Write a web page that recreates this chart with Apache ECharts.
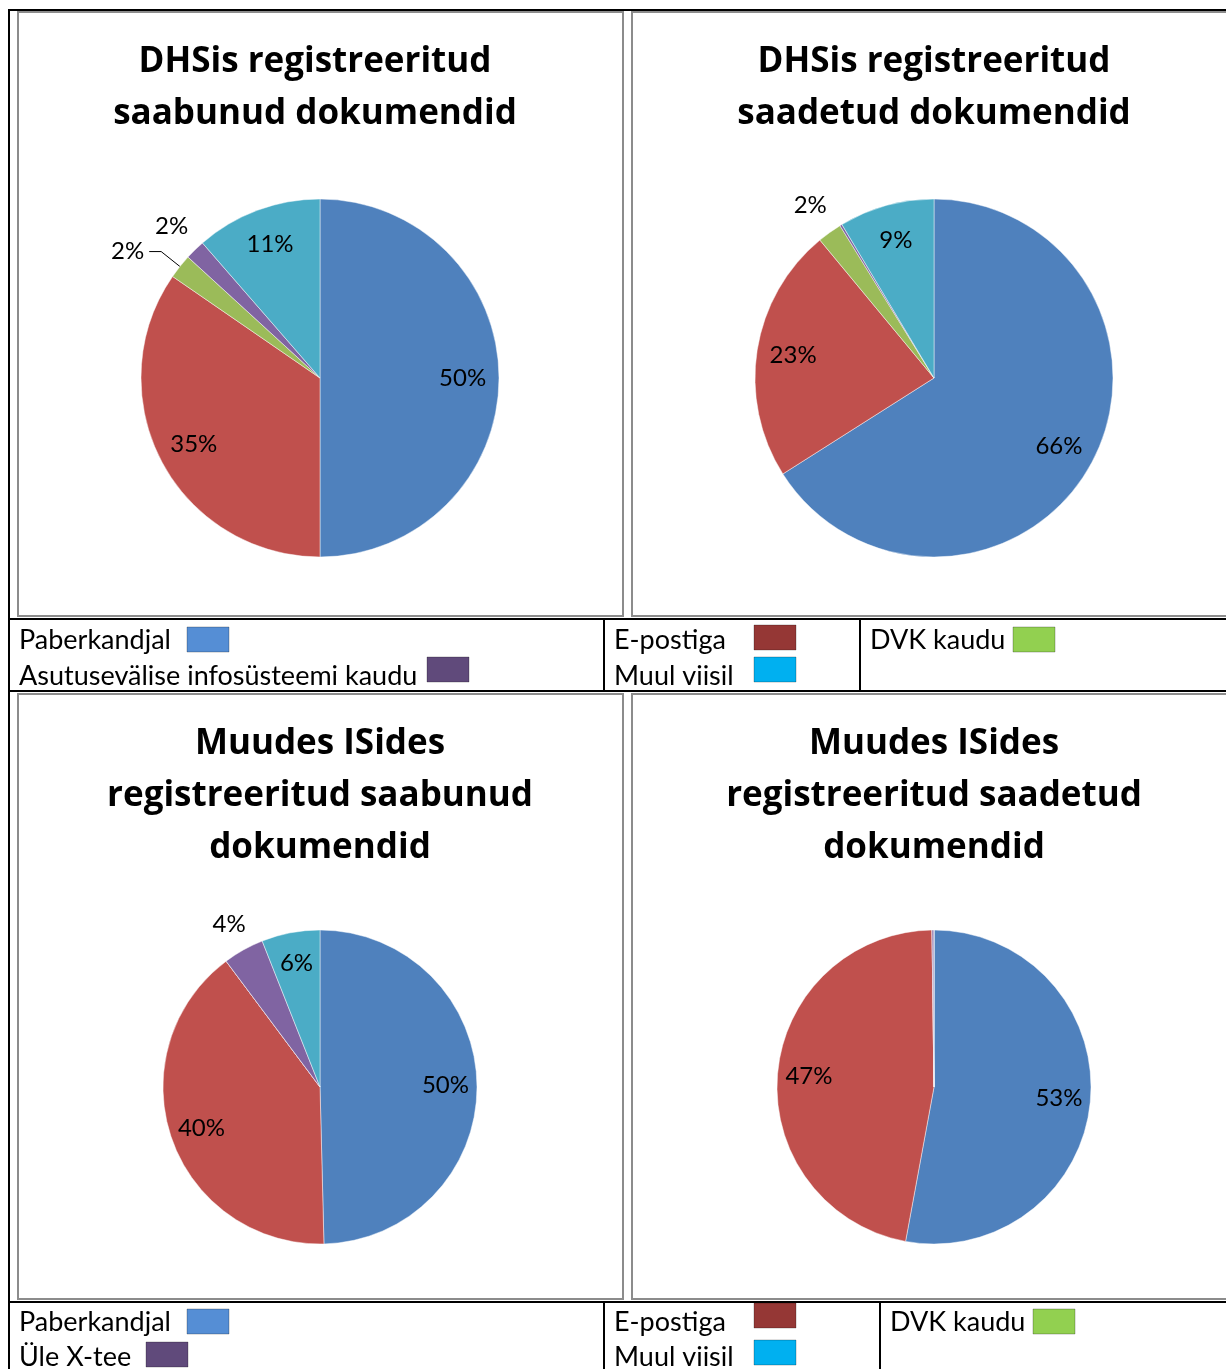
<!DOCTYPE html>
<html>
<head>
<meta charset="utf-8">
<script src="https://cdn.jsdelivr.net/npm/echarts@6/dist/echarts.min.js"></script>
<style>
html, body { margin: 0; padding: 0; background: #fff; }
#chart { width: 1226px; height: 1369px; }
</style>
</head>
<body>
<div id="chart"></div>
<script>
// slice order = clockwise from 12 o'clock
var namesTop = ['Paberkandjal', 'E-postiga', 'DVK kaudu', 'Asutusevälise infosüsteemi kaudu', 'Muul viisil']
var namesBottom = ['Paberkandjal', 'E-postiga', 'DVK kaudu', 'Üle X-tee', 'Muul viisil']

// shares in percent
var dhsSaabunud = [50.0, 34.6, 2.2, 1.8, 11.4]
var dhsSaadetud = [66.0, 23.0, 2.2, 0.2, 8.6]
var isSaabunud = [49.6, 40.2, 0, 4.2, 6.0]
var isSaadetud = [52.9, 46.9, 0, 0.2, 0]

var titles = [
    'DHSis registreeritud\nsaabunud dokumendid',
    'DHSis registreeritud\nsaadetud dokumendid',
    'Muudes ISides\nregistreeritud saabunud\ndokumendid',
    'Muudes ISides\nregistreeritud saadetud\ndokumendid'
]

var sliceColors = ['#4F81BD', '#C0504D', '#9BBB59', '#8064A2', '#4BACC6']
var legendColors = ['#558ED5', '#953735', '#92D050', '#604A7B', '#00B0F0']

var FONT = 'Lato'
var TITLE_FONT = '"Open Sans"'

var charts = [
    { data: dhsSaabunud, names: namesTop, title: titles[0], cx: 320, cy: 378, r: 179, tx: 315, ty: 36, leader: 2 },
    { data: dhsSaadetud, names: namesTop, title: titles[1], cx: 934, cy: 378, r: 179, tx: 934, ty: 36, leader: -1 },
    { data: isSaabunud, names: namesBottom, title: titles[2], cx: 320, cy: 1087, r: 157, tx: 320, ty: 718, leader: -1 },
    { data: isSaadetud, names: namesBottom, title: titles[3], cx: 934, cy: 1087, r: 157, tx: 934, ty: 718, leader: -1 }
]

// main pie + two transparent copies that only carry the labels
// (inner copy puts labels at ~0.78r, outer copy at ~1.17r)
function pieSeries(c, kind) {
    var radius = kind == 'main' ? c.r : (kind == 'inner' ? c.r * 1.56 : c.r * 2.34)
    return {
        type: 'pie',
        center: [c.cx, c.cy],
        radius: [0, radius],
        startAngle: 90,
        clockwise: true,
        percentPrecision: 0,
        avoidLabelOverlap: false,
        silent: kind != 'main',
        animation: false,
        z: kind == 'main' ? 2 : 3,
        emphasis: { disabled: true },
        itemStyle: {
            borderColor: kind == 'main' ? 'rgba(255,255,255,0.45)' : 'rgba(0,0,0,0)',
            borderWidth: kind == 'main' ? 1 : 0
        },
        label: {
            position: kind == 'main' ? 'outside' : 'inside',
            formatter: '{d}%',
            fontFamily: FONT,
            fontSize: 24,
            color: '#000'
        },
        labelLine: {
            show: kind == 'main',
            length: 24,
            length2: 12,
            lineStyle: { color: '#000', width: 1 }
        },
        data: c.data.map(function(v, i) {
            var item = { name: c.names[i], value: v }
            var small = v < 5
            var hidden = v < 1
            if (kind == 'main') {
                item.itemStyle = { color: sliceColors[i] }
                item.label = { show: i == c.leader }
                item.labelLine = { show: i == c.leader }
            } else {
                item.itemStyle = { color: 'rgba(0,0,0,0)' }
                var show = kind == 'inner' ? !small : (small && i != c.leader)
                item.label = { show: show && !hidden }
            }
            return item
        })
    }
}

var series = []
charts.forEach(function(c) {
    series.push(pieSeries(c, 'main'))
    series.push(pieSeries(c, 'inner'))
    series.push(pieSeries(c, 'outer'))
})

var graphic = []

function hline(x1, x2, y, color, w) {
    graphic.push({ type: 'line', shape: { x1: x1, y1: y, x2: x2, y2: y }, style: { stroke: color, lineWidth: w }, z: 10 })
}
function vline(x, y1, y2, color, w) {
    graphic.push({ type: 'line', shape: { x1: x, y1: y1, x2: x, y2: y2 }, style: { stroke: color, lineWidth: w }, z: 10 })
}
function box(x, y, w, h) {
    graphic.push({ type: 'rect', shape: { x: x, y: y, width: w, height: h }, style: { fill: null, stroke: '#8c8c8c', lineWidth: 2 }, z: 9 })
}

// chart frames
box(18, 12, 605, 604)
box(632, 12, 600, 604)
box(18, 694, 605, 605)
box(632, 694, 600, 605)

// table lines
hline(8, 1226, 10, '#000', 2)
vline(9, 10, 1369, '#000', 2)
hline(8, 1226, 619, '#000', 2)
hline(8, 1226, 691, '#000', 2)
vline(604, 619, 691, '#000', 2)
vline(860, 619, 691, '#000', 2)
hline(8, 1226, 1302, '#000', 2)
vline(604, 1302, 1369, '#000', 2)
vline(880, 1302, 1369, '#000', 2)

// titles
charts.forEach(function(c) {
    graphic.push({
        type: 'text', x: c.tx, y: c.ty, z: 10,
        style: {
            text: c.title, align: 'center', verticalAlign: 'top',
            font: 'bold 35px ' + TITLE_FONT, lineHeight: 52, fill: '#000'
        }
    })
})

// legend cells: [category index, text x, text y, square x, square y]
var legendTop = [[0, 19, 640, 187, 627], [3, 19, 676, 427, 657], [1, 614, 640, 754, 625], [4, 614, 676, 754, 657], [2, 870, 640, 1013, 627]]
var legendBottom = [[0, 19, 1322, 187, 1309], [3, 19, 1357, 146, 1342], [1, 614, 1322, 754, 1303], [4, 614, 1357, 754, 1340], [2, 890, 1322, 1033, 1309]]

function legendCells(cells, names) {
    cells.forEach(function(e) {
        graphic.push({
            type: 'text', x: e[1], y: e[2], z: 10,
            style: { text: names[e[0]], align: 'left', verticalAlign: 'middle', font: '27px ' + FONT, fill: '#000' }
        })
        graphic.push({
            type: 'rect', shape: { x: e[3], y: e[4], width: 42, height: 25 }, z: 10,
            style: { fill: legendColors[e[0]], stroke: 'rgba(0,0,0,0.25)', lineWidth: 1 }
        })
    })
}
legendCells(legendTop, namesTop)
legendCells(legendBottom, namesBottom)

var myChart = echarts.init(document.getElementById('chart'), null, { renderer: 'canvas' })
var option = {
    backgroundColor: '#fff',
    animation: false,
    series: series,
    graphic: graphic
}
option && myChart.setOption(option)
</script>
</body>
</html>
